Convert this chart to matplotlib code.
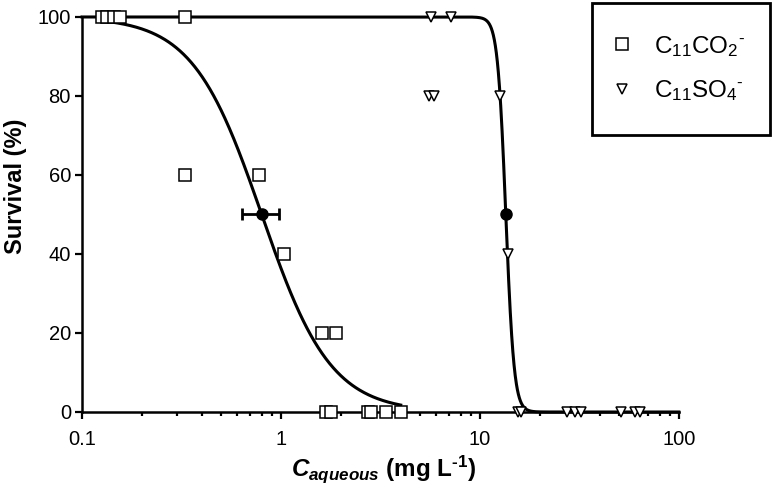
import matplotlib
matplotlib.use("Agg")
import matplotlib.pyplot as plt
from matplotlib.patches import Rectangle
import numpy as np

plt.rcParams['font.family'] = ['Liberation Sans', 'DejaVu Sans']
plt.rcParams['mathtext.fontset'] = 'custom'
plt.rcParams['mathtext.it'] = 'Liberation Sans:italic:bold'
plt.rcParams['mathtext.rm'] = 'Liberation Sans'

co2_conc = [0.126, 0.134, 0.144, 0.156, 0.33, 0.33, 0.78, 1.04, 1.60, 1.90,
            1.69, 1.78, 2.74, 2.82, 3.38, 4.0]
co2_surv = [100, 100, 100, 100, 100, 60, 60, 40, 20, 20, 0, 0, 0, 0, 0, 0]

so4_conc = [5.65, 7.12, 5.56, 5.87, 12.6, 13.8, 15.6, 16.1, 27.3, 30.0, 32.4,
            51.5, 60.1, 63.7]
so4_surv = [100, 100, 80, 80, 80, 40, 0, 0, 0, 0, 0, 0, 0, 0]

# fitted dose-response parameters (EC50 and hill slope) + EC50 CI
co2_ec50, co2_hill = 0.80, 2.5
co2_ec50_lo, co2_ec50_hi = 0.635, 0.977
so4_ec50, so4_hill = 13.5, 21.0

x_ticks = [0.1, 1, 10, 100]
x_tick_labels = ["0.1", "1", "10", "100"]
y_ticks = [0, 20, 40, 60, 80, 100]


def dose_resp(x, ec50, h):
    return 100.0 / (1.0 + (x / ec50) ** h)


fig = plt.figure(figsize=(7.74, 4.98), dpi=100)
ax = fig.add_axes([0.106, 0.1727, 0.771, 0.7932])

# fit curves
xc = np.logspace(np.log10(min(co2_conc)), np.log10(max(co2_conc)), 400)
ax.plot(xc, dose_resp(xc, co2_ec50, co2_hill), color='black', lw=2.2,
        clip_on=False, zorder=2)
xs = np.logspace(-1, 2, 3000)
ax.plot(xs, dose_resp(xs, so4_ec50, so4_hill), color='black', lw=2.2,
        clip_on=False, zorder=2)

# data
ax.plot(co2_conc, co2_surv, ls='none', marker='s', ms=8.8, mfc='white',
        mec='black', mew=1.1, clip_on=False, zorder=3,
        label=r"C$_{\mathregular{11}}$CO$_{\mathregular{2}}$$^{\mathregular{‐}}$")
ax.plot(so4_conc, so4_surv, ls='none', marker='v', ms=7.5, mfc='white',
        mec='black', mew=1.1, clip_on=False, zorder=3,
        label=r"C$_{\mathregular{11}}$SO$_{\mathregular{4}}$$^{\mathregular{‐}}$")

# EC50 points
ax.errorbar([co2_ec50], [50], xerr=[[co2_ec50 - co2_ec50_lo], [co2_ec50_hi - co2_ec50]],
            fmt='o', color='black', ms=8, elinewidth=2, capsize=4, capthick=2, zorder=4)
ax.plot([so4_ec50], [50], 'o', color='black', ms=8, zorder=4)

ax.set_xscale('log')
ax.set_xlim(0.1, 100)
ax.set_ylim(0, 100)
ax.set_xticks(x_ticks, labels=x_tick_labels)
ax.set_yticks(y_ticks)

for s in ['top', 'right']:
    ax.spines[s].set_visible(False)
for s in ['left', 'bottom']:
    ax.spines[s].set_linewidth(1.8)

ax.tick_params(which='major', length=5, width=1.6, labelsize=14.5, direction='out')
ax.tick_params(axis='x', which='major', pad=8)
ax.tick_params(axis='y', which='major', pad=3)
ax.tick_params(which='minor', length=3, width=1.6, direction='out')

ax.set_ylabel("Survival (%)", fontsize=17, fontweight='bold')
ax.set_xlabel(r"$C_{aqueous}$ (mg L$^{\mathregular{‐1}}$)", fontsize=17.5, fontweight='bold')
ax.yaxis.set_label_coords(-0.093, 0.571)
ax.xaxis.set_label_coords(0.505, -0.105)

# legend entries without frame, box drawn separately
fig.legend(loc='center', bbox_to_anchor=(0.8798, 0.8625), fontsize=17.5,
           frameon=False, borderpad=0, labelspacing=0.8,
           handletextpad=1.13, handlelength=0.42, borderaxespad=0)
fig.patches.append(Rectangle((0.7649, 0.7289), 0.230, 0.2651, transform=fig.transFigure,
                             fill=False, edgecolor='black', linewidth=2))

fig.savefig("out.png", dpi=100)
